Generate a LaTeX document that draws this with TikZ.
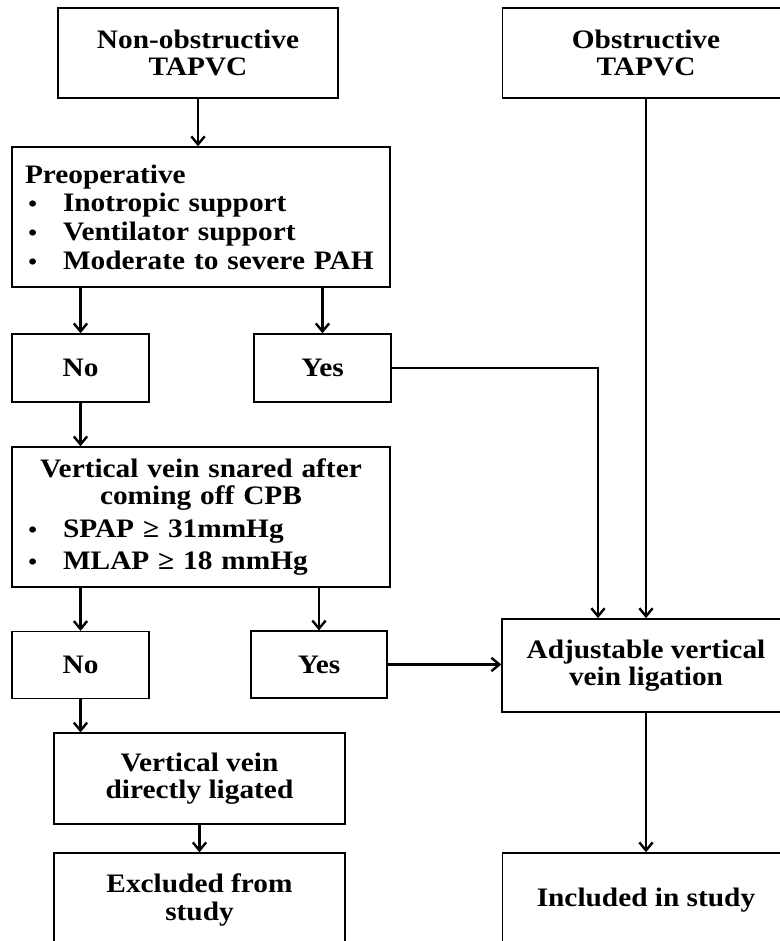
\documentclass[tikz,border=0pt]{standalone}
\usepackage{fontspec}
\setmainfont{Liberation Serif}[FakeStretch=1.1]
\usetikzlibrary{arrows.meta}
\newcommand{\bulletItem}[1]{\makebox[264pt][l]{\hspace*{2.5pt}\makebox[26pt][l]{\fontsize{17}{17}\selectfont\textbullet}#1}}
\begin{document}
\begin{tikzpicture}
[x=0.75pt, y=-0.75pt,
 lineDecorate/.style={-{Straight Barb[length=6pt,width=10pt,line width=1.8pt]},line width=1.9pt},
 boxDecorate/.style={shape=rectangle,draw,line width=1.1pt,inner sep=0pt,align=center,
   font=\fontsize{20}{20.5}\selectfont\bfseries}]

 \useasboundingbox (0,0) rectangle (779,941);

 \node (NonObs) at (198,53) [boxDecorate, minimum width=210pt, minimum height=67.5pt] {Non-obstructive\\TAPVC};
 \node (Obs) at (646,53) [boxDecorate, minimum width=215pt, minimum height=67.5pt] {Obstructive\\TAPVC};
 \node (PreOp) at (201,217) [boxDecorate, minimum width=283.5pt, minimum height=105pt, text width=264pt, align=left,
   font=\fontsize{20}{21.5}\selectfont\bfseries]
   {Preoperative\\ \bulletItem{Inotropic support}\\ \bulletItem{Ventilator support}\\ \bulletItem{Moderate to severe PAH}};
 \node (No1) at (80.5,368) [boxDecorate, minimum width=102.75pt, minimum height=51pt] {No};
 \node (Yes1) at (322.5,368) [boxDecorate, minimum width=102.75pt, minimum height=51pt] {Yes};
 \node (Snared) at (201,517) [boxDecorate, minimum width=283.5pt, minimum height=105pt, text width=264pt]
   {Vertical vein snared after\\ coming off CPB\\[4pt] \bulletItem{SPAP ≥ 31mmHg}\\[4pt] \bulletItem{MLAP ≥ 18 mmHg}};
 \node (No2) at (80.5,665) [boxDecorate, minimum width=102.75pt, minimum height=50pt] {No};
 \node (Yes2) at (319,664.5) [boxDecorate, minimum width=102pt, minimum height=50pt] {Yes};
 \node (Adj) at (646,665.5) [boxDecorate, minimum width=216pt, minimum height=70pt] {Adjustable vertical\\vein ligation};
 \node (Direct) at (199.5,778.5) [boxDecorate, minimum width=218pt, minimum height=68pt] {Vertical vein\\directly ligated};
 \node (Excl) at (199.5,900) [boxDecorate, minimum width=218pt, minimum height=70.5pt] {Excluded from\\study};
 \node (Incl) at (646,900) [boxDecorate, minimum width=215pt, minimum height=70.5pt] {Included in study};
 \coordinate (YesBend) at (598,368);

\path
 (NonObs.south) edge[lineDecorate] (NonObs.south |- PreOp.north)
 (No1.north |- PreOp.south) edge[lineDecorate] (No1.north)
 (Yes1.north |- PreOp.south) edge[lineDecorate] (Yes1.north)
 (No1.south) edge[lineDecorate] (No1.south |- Snared.north)
 (No2.north |- Snared.south) edge[lineDecorate] (No2.north)
 (Yes2.north |- Snared.south) edge[lineDecorate] (Yes2.north)
 (Yes2.east) edge[lineDecorate] (Yes2.east -| Adj.west)
 (Obs.south) edge[lineDecorate] (Adj.north)
 (No2.south) edge[lineDecorate] (No2.south |- Direct.north)
 (Direct.south) edge[lineDecorate] (Excl.north)
 (Adj.south) edge[lineDecorate] (Incl.north);

 \draw[lineDecorate] (Yes1.east) -- (YesBend) -- (YesBend |- Adj.north);
\end{tikzpicture}
\end{document}
